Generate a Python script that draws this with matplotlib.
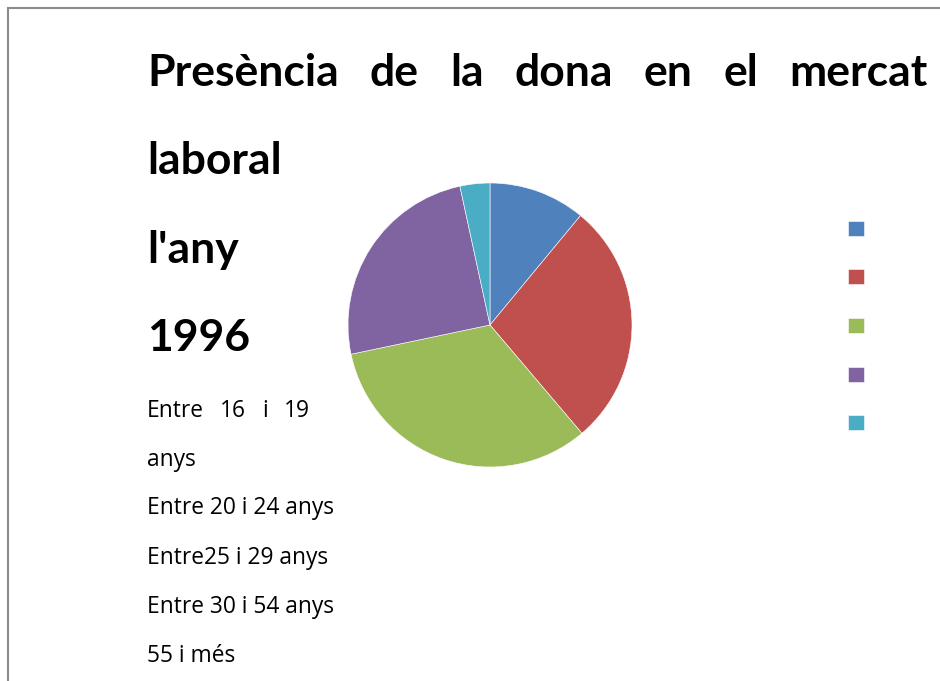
import matplotlib.pyplot as plt
from matplotlib.patches import Rectangle

W, H = 940, 681

title_lines = ["Presència de la dona en el mercat", "laboral", "l'any", "1996"]
categories = ["Entre 16 i 19 anys", "Entre 20 i 24 anys", "Entre25 i 29 anys",
              "Entre 30 i 54 anys", "55 i més"]
# text lines as they wrap in the original
text_lines = ["Entre 16 i 19", "anys", "Entre 20 i 24 anys", "Entre25 i 29 anys",
              "Entre 30 i 54 anys", "55 i més"]
values = [11.0, 27.8, 32.9, 24.9, 3.4]
colors = ['#4F81BD', '#C0504D', '#9BBB59', '#8064A2', '#4BACC6']

plt.rcParams['font.family'] = ['Lato', 'DejaVu Sans']

fig = plt.figure(figsize=(W / 100, H / 100), dpi=100)

# gray frame, right and bottom edges fall outside the picture
fig.patches.append(Rectangle((8 / W, -0.05), 1.1, 1 - 8 / H + 0.05,
                             transform=fig.transFigure, fill=False,
                             edgecolor='#8c8c8c', lw=1.5, clip_on=False))


def put_line(text, x0, x1, y_px, justify=False, **kw):
    y = 1 - y_px / H
    if not justify:
        fig.text(x0 / W, y, text, va='baseline', **kw)
        return
    words = text.split()
    texts = [fig.text(0, y, w, va='baseline', **kw) for w in words]
    fig.canvas.draw()
    r = fig.canvas.get_renderer()
    widths = [t.get_window_extent(r).width for t in texts]
    gap = (x1 - x0 - sum(widths)) / (len(words) - 1)
    x = x0
    for t, w in zip(texts, widths):
        t.set_x(x / W)
        x += w + gap


tkw = dict(fontsize=32, fontweight='bold', color='black')
put_line(title_lines[0], 147, 928, 86, justify=True, **tkw)
for line, yb in zip(title_lines[1:], [174, 263, 351]):
    put_line(line, 147, None, yb, **tkw)

bkw = dict(fontsize=16.4, color='black', family=['Open Sans', 'DejaVu Sans'])
for i, (line, yb) in enumerate(zip(text_lines, [417, 466, 514, 564, 613, 662])):
    put_line(line, 147, 310, yb, justify=(i == 0), **bkw)

# pie
r = 142
cx, cy = 490, 325
ax = fig.add_axes([(cx - r) / W, 1 - (cy + r) / H, 2 * r / W, 2 * r / H])
wedges, _ = ax.pie(values, colors=colors, startangle=90, counterclock=False,
                   wedgeprops=dict(edgecolor='white', linewidth=0.4))
ax.set_xlim(-1, 1)
ax.set_ylim(-1, 1)
ax.set_aspect('equal')

leg = fig.legend(wedges, [''] * len(categories), loc='upper left',
                 bbox_to_anchor=(836 / W, 1 - 209 / H), frameon=False,
                 fontsize=12, handlelength=1.0, handleheight=1.0,
                 labelspacing=1.95, handletextpad=0.2, borderpad=0.2)

fig.savefig('out.png', dpi=100)
